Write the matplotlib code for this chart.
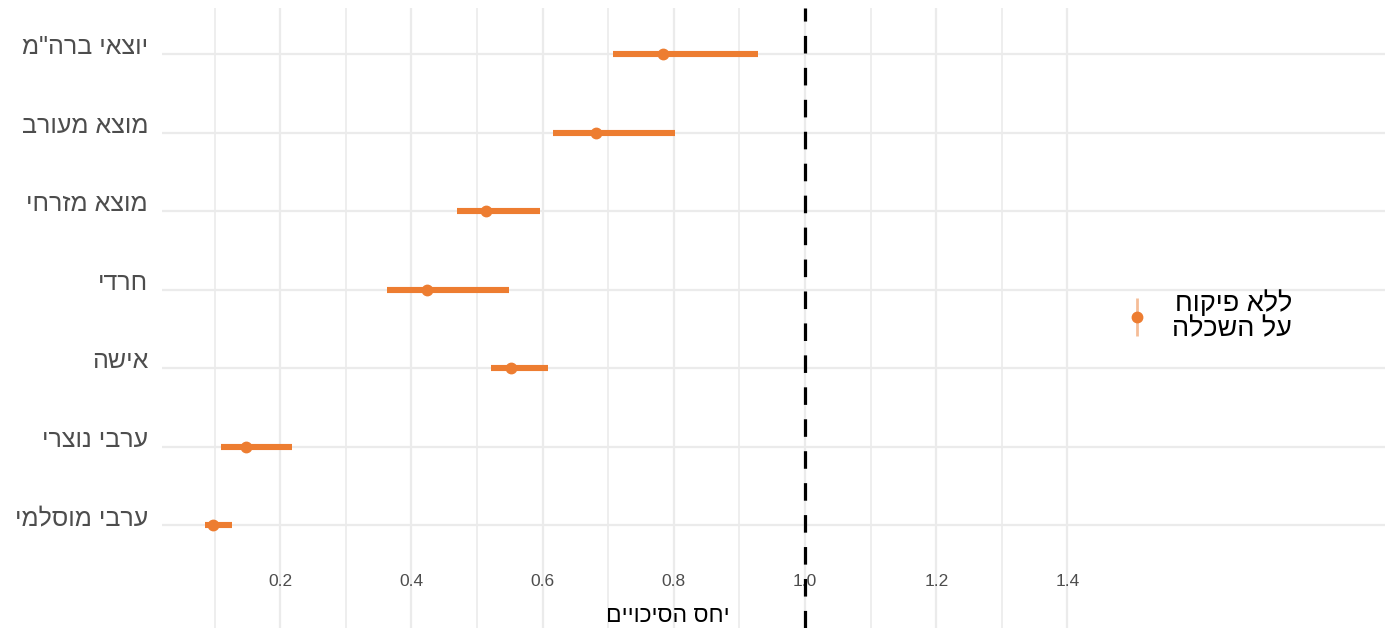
"""Odds-ratio forest plot (Hebrew labels) with a reference line at 1."""

from __future__ import annotations

import matplotlib

matplotlib.use("Agg")
import matplotlib.pyplot as plt
from matplotlib.lines import Line2D

plt.rcParams.update(
    {
        "font.family": ["Liberation Sans", "DejaVu Sans"],
        "figure.facecolor": "white",
        "axes.facecolor": "white",
    }
)

ORANGE = "#ED7D31"
GRID = "#EBEBEB"
TEXT_GREY = "#4D4D4D"

# bottom row first
GROUPS = [
    "ערבי מוסלמי",
    "ערבי נוצרי",
    "אישה",
    "חרדי",
    "מוצא מזרחי",
    "מוצא מעורב",
    'יוצאי ברה"מ',
]
ODDS_RATIO = [0.098, 0.147, 0.551, 0.424, 0.514, 0.681, 0.784]
CI_LOW = [0.085, 0.109, 0.521, 0.362, 0.469, 0.615, 0.707]
CI_HIGH = [0.126, 0.218, 0.608, 0.548, 0.596, 0.802, 0.928]

MAJOR_TICKS = [0.2, 0.4, 0.6, 0.8, 1.0, 1.2, 1.4]
MINOR_TICKS = [0.1, 0.3, 0.5, 0.7, 0.9, 1.1, 1.3]
LEGEND_LABEL = ["ללא פיקוח", "על השכלה"]
X_LABEL = "יחס הסיכויים"


def rtl(s: str) -> str:
    # matplotlib has no bidi support, so flip the Hebrew by hand
    return s[::-1]


def forest_plot() -> None:
    fig = plt.figure(figsize=(13.85, 6.28), dpi=100)
    ax = fig.add_axes([162 / 1385, 0.0, 1 - 162 / 1385, 1 - 8 / 628])

    rows = list(range(len(GROUPS)))
    ax.hlines(rows, CI_LOW, CI_HIGH, color=ORANGE, linewidth=4.4, zorder=3)
    ax.plot(ODDS_RATIO, rows, "o", color=ORANGE, markersize=7.5, zorder=4)
    ax.axvline(1.0, color="black", linewidth=2.3, linestyle=(0, (5.5, 4.5)), zorder=5)

    ax.set_xlim(0.0197, 1.884)
    ax.set_ylim(-1.312, 6.586)

    ax.set_xticks(MAJOR_TICKS)
    ax.set_xticklabels([f"{t:.1f}" for t in MAJOR_TICKS])
    ax.set_xticks(MINOR_TICKS, minor=True)
    ax.set_yticks(rows)
    ax.set_yticklabels([rtl(g) for g in GROUPS])

    ax.tick_params(axis="x", which="both", length=0, pad=-39, labelsize=12.5, labelcolor=TEXT_GREY)
    ax.tick_params(axis="y", length=0, pad=10, labelsize=18, labelcolor=TEXT_GREY)
    for lab in ax.get_yticklabels():
        lab.set_verticalalignment("baseline")

    ax.grid(True, which="major", color=GRID, linewidth=1.6, zorder=0)
    ax.grid(True, which="minor", axis="x", color=GRID, linewidth=1.2, zorder=0)
    ax.set_axisbelow(True)
    for spine in ax.spines.values():
        spine.set_visible(False)

    ax.set_xlabel(rtl(X_LABEL), fontsize=16.5, color="black")
    ax.xaxis.set_label_coords((668 - 162) / (1385 - 162), 13 / 620)
    ax.xaxis.label.set_verticalalignment("center")

    handle = (
        Line2D([], [], linestyle="none", marker="|", markersize=27, markeredgewidth=2,
               color=ORANGE, alpha=0.5),
        Line2D([], [], linestyle="none", marker="o", markersize=7.5, color=ORANGE),
    )
    leg = fig.legend(
        [handle],
        ["\n".join(rtl(s) for s in LEGEND_LABEL)],
        loc="center left",
        bbox_to_anchor=(1098 / 1385, 1 - 316 / 628),
        frameon=False,
        fontsize=19.5,
        handlelength=1.1,
        handletextpad=0.75,
    )
    for t in leg.get_texts():
        t.set_multialignment("right")
        t.set_linespacing(0.95)

    fig.savefig("out.png", dpi=100)
    plt.close(fig)


def main() -> None:
    forest_plot()


if __name__ == "__main__":
    main()
